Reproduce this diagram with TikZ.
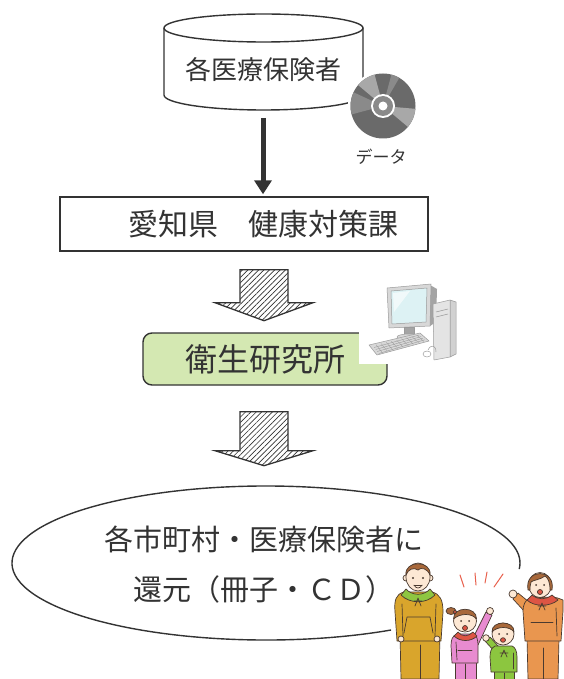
\documentclass[tikz,border=0pt]{standalone}
\usepackage{fontspec}
\newfontfamily\jp{Noto Sans CJK JP}
\usetikzlibrary{arrows.meta,patterns.meta,calc}

\definecolor{ink}{HTML}{333333}
\definecolor{leaf}{HTML}{D4E8B2}
\definecolor{cddark}{HTML}{6A6A6A}
\definecolor{cdlight}{HTML}{A8A8A8}
\definecolor{cdmid}{HTML}{8A8A8A}
\definecolor{skin}{HTML}{FDE8D4}
\definecolor{hair}{HTML}{A8683A}
\definecolor{figink}{HTML}{4A3A30}
\definecolor{mustard}{HTML}{D9A52C}
\definecolor{hoodgreen}{HTML}{8EC641}
\definecolor{pinkwear}{HTML}{E88BD0}
\definecolor{greenwear}{HTML}{8CC63F}
\definecolor{orangewear}{HTML}{E9964F}
\definecolor{hoodred}{HTML}{DD5544}
\definecolor{cheer}{HTML}{E8604C}
\definecolor{pcframe}{HTML}{D8D8D8}
\definecolor{pcdark}{HTML}{A4A4A4}
\definecolor{pcline}{HTML}{9A9A9A}
\definecolor{screen}{HTML}{DDF2F4}

\tikzset{
  frame/.style={draw=ink, line width=1.4pt},
  lbl/.style={text=ink, inner sep=0pt},
  hatchfill/.style={draw=ink, line width=1.3pt, line join=miter,
    pattern={Lines[angle=45,distance=3.8pt,line width=0.7pt]}, pattern color=ink},
  fig/.style={draw=figink, line width=0.7pt, line join=round, line cap=round},
  pc/.style={draw=pcline, line width=0.5pt, line join=round},
}

% hollow hatched down arrow: #1 top centre, #2 shaft length, #3 head length
\newcommand\hatchedarrow[3]{%
  \draw[hatchfill] ([shift={(-24,0)}]#1) -- ([shift={(24,0)}]#1)
    -- ([shift={(24,#2)}]#1) -- ([shift={(49,#2)}]#1)
    -- ([shift={(0,#2+#3)}]#1) -- ([shift={(-49,#2)}]#1)
    -- ([shift={(-24,#2)}]#1) -- cycle;}

\begin{document}
\begin{tikzpicture}[x=1pt,y=-1pt]
\useasboundingbox[fill=white] (0,0) rectangle (563,679);

% ---- database cylinder ----
\filldraw[frame, fill=white] (164,28) -- (164,95)
  arc[start angle=180, end angle=360, x radius=99.5pt, y radius=15pt] -- (363,28);
\draw[frame] (263.5,28) ellipse[x radius=99.5pt, y radius=14pt];
\node[lbl, font=\jp\fontsize{26}{30}\selectfont] (hoken) at (263,70) {各医療保険者};
\coordinate (cylbot) at (263,112);

% ---- data disc ----
\coordinate (cd) at (383,106);
\fill[white] (cd) circle (35pt);
\fill[cddark] (cd) circle (32.5pt);
\fill[cdlight] (cd) -- ++(105:32.5pt) arc[start angle=105, end angle=140, radius=32.5pt] -- cycle;
\fill[cdmid] (cd) -- ++(155:32.5pt) arc[start angle=155, end angle=195, radius=32.5pt] -- cycle;
\fill[cdlight] (cd) -- ++(-40:32.5pt) arc[start angle=-40, end angle=-5, radius=32.5pt] -- cycle;
\fill[cdmid] (cd) -- ++(60:32.5pt) arc[start angle=60, end angle=75, radius=32.5pt] -- cycle;
\fill[white] (cd) circle (12pt);
\fill[cdmid] (cd) circle (10pt);
\fill[white] (cd) circle (4.5pt);
\node[lbl, font=\jp\fontsize{17}{20}\selectfont] (data) at (381,157) {データ};

% ---- prefecture office ----
\node[frame, fill=white, minimum width=368pt, minimum height=54pt, inner sep=0pt] (ken) at (244,224) {};
\node[lbl, font=\jp\fontsize{30}{34}\selectfont] (kentext) at ([xshift=19.5pt]ken.center) {愛知県　健康対策課};

\draw[ink, line width=5pt, -{Triangle[width=17pt,length=14pt]}, shorten >=2pt]
  ([yshift=-6pt]cylbot) -- (cylbot |- ken.north);

% ---- institute ----
\node[frame, rounded corners=9pt, fill=leaf, minimum width=244pt, minimum height=52pt,
      lbl, font=\jp\fontsize{32}{36}\selectfont] (eiken) at (265,359) {衛生研究所};

\coordinate (h1) at ($(ken.south -| eiken.north)+(-1,18)$);
\hatchedarrow{h1}{33}{18}

% ---- computer ----
\fill[white] (359,281) rectangle (458,364);
% monitor
\fill[pcdark] (430,285) -- (437,289) -- (436,322) -- (430,326) -- cycle;
\filldraw[pc, fill=pcframe] (387,288) -- (431,284) -- (430,326) -- (389,328) -- cycle;
\filldraw[pc, fill=screen] (391,291) -- (427,288) -- (426,322) -- (392,324) -- cycle;
\fill[white, opacity=0.6] (393,293) -- (410,291) -- (394,312) -- cycle;
\filldraw[pc, fill=pcdark] (404,327) rectangle (414,336);
\filldraw[pc, fill=pcframe] (409,337) ellipse[x radius=12pt, y radius=3pt];
% tower
\filldraw[pc, fill=pcdark!50] (450,300) -- (456,302) -- (456,354) -- (450,357) -- cycle;
\filldraw[pc, fill=pcframe!70] (433,304) -- (450,300) -- (450,357) -- (434,360) -- cycle;
\draw[pc] (436,312) -- (448,309) (436,317) -- (448,314);
% keyboard
\filldraw[pc, fill=pcframe] (369,345) -- (420,333) -- (429,341) -- (377,355) -- cycle;
\foreach \t in {0.25,0.45,0.65,0.85}
  \draw[pcline, line width=0.4pt] ($(369,345)!\t!(377,355)+(3,0)$) -- ($(420,333)!\t!(429,341)+(-3,0)$);
\foreach \t in {0.1,0.2,...,0.9}
  \draw[pcline, line width=0.3pt] ($(369,345)!\t!(420,333)+(2,1)$) -- ($(377,355)!\t!(429,341)+(0,-1)$);
% mouse and cable
\draw[pc] (428,350) .. controls (431,344) and (436,345) .. (436,352);
\filldraw[pc, fill=white] (427,354) ellipse[x radius=4pt, y radius=3pt];

% ---- returning results ----
\hatchedarrow{$(eiken.south)+(-1,26)$}{39}{15}

\node[lbl, font=\jp\fontsize{29}{50}\selectfont, align=center] (ret) at (264,565)
  {各市町村・医療保険者に\\還元（冊子・ＣＤ）};
\coordinate (bubble) at ($(ret.center)+(2,-2)$);
\draw[ink, line width=1.4pt] ([shift={(-60.5:254pt and 77pt)}]bubble)
  arc[start angle=-60.5, end angle=-364.5, x radius=254pt, y radius=77pt];

% ---- family ----
% father
\filldraw[fig, fill=mustard] (400,633) -- (440,633) -- (439,679) -- (401,679) -- cycle;
\draw[fig] (420,645) -- (420,679);
\filldraw[fig, fill=mustard] (404,592) .. controls (396,594) and (394,600) .. (395,612)
  -- (397,641) -- (441,641) -- (443,612) .. controls (443,600) and (440,594) .. (432,592) -- cycle;
\draw[fig] (402,604) -- (403,636) (436,604) -- (435,636);
\draw[fig] (407,617) -- (430,617) -- (433,633) (407,617) -- (404,633);
\filldraw[fig, fill=skin] (401,639) circle (3pt) (437,639) circle (3pt);
\filldraw[fig, fill=hoodgreen] (401,595) .. controls (410,604) and (426,604) .. (435,595)
  -- (430,589) .. controls (424,596) and (412,596) .. (406,589) -- cycle;
\draw[fig] (418,598) -- (415,606) (418,598) -- (421,606) (414,601) -- (422,601);
\filldraw[fig, fill=skin] (406,578) circle (3pt) (430,578) circle (3pt);
\filldraw[fig, fill=skin] (418,577) ellipse[x radius=12pt, y radius=14pt];
\filldraw[fig, fill=hair] (406,575) .. controls (404,560) and (432,560) .. (430,575)
  .. controls (427,568) and (421,567) .. (418,570) .. controls (414,567) and (408,569) .. (406,575) -- cycle;
\fill[figink] (413,578) circle (1.1pt) (423,578) circle (1.1pt);
\draw[fig] (414,585) .. controls (416,589) and (420,589) .. (422,585);
\draw[fig] (414,585) -- (422,585);

% cheering marks
\draw[cheer, line width=1pt, line cap=round]
  (460,575) -- (464,587) (475,573) -- (476,585) (487,572) -- (485,583) (503,574) -- (494,587);

% girl
\filldraw[fig, fill=pinkwear] (455,660) -- (476,660) -- (476,679) -- (455,679) -- cycle;
\draw[fig] (465,664) -- (465,679);
\filldraw[fig, fill=pinkwear] (472,640) -- (486,612) -- (492,615) -- (478,645) -- cycle;
\filldraw[fig, fill=skin] (490,611) circle (3.5pt);
\filldraw[fig, fill=pinkwear] (457,634) .. controls (452,636) and (451,640) .. (451,646)
  -- (452,663) -- (478,663) -- (478,646) .. controls (478,640) and (477,636) .. (474,634) -- cycle;
\draw[fig] (456,642) -- (457,660);
\draw[fig] (458,650) -- (472,650);
\filldraw[fig, fill=hoodred] (454,636) .. controls (460,642) and (471,642) .. (477,636)
  -- (473,632) .. controls (468,637) and (462,637) .. (458,632) -- cycle;
\filldraw[fig, fill=hair] (451,611) ellipse[x radius=5pt, y radius=3.5pt];
\filldraw[fig, fill=hoodred] (455,612) circle (1.8pt);
\filldraw[fig, fill=skin] (465,621) ellipse[x radius=11.5pt, y radius=11pt];
\filldraw[fig, fill=hair] (453.5,619) .. controls (453,606) and (477,606) .. (476.5,619)
  .. controls (472,613) and (460,613) .. (453.5,619) -- cycle;
\fill[figink] (461,621) circle (1pt) (469,621) circle (1pt);
\filldraw[fig, fill=hoodred] (465,628) ellipse[x radius=2.5pt, y radius=2.5pt];

% boy
\filldraw[fig, fill=greenwear] (494,671) -- (514,671) -- (514,679) -- (494,679) -- cycle;
\draw[fig] (504,673) -- (504,679);
\filldraw[fig, fill=greenwear] (495,652) -- (485,641) -- (490,637) -- (499,647) -- cycle;
\filldraw[fig, fill=skin] (486,638) circle (3.3pt);
\filldraw[fig, fill=greenwear] (495,646) .. controls (491,648) and (490,652) .. (490,657)
  -- (491,672) -- (517,672) -- (517,657) .. controls (517,651) and (515,647) .. (512,646) -- cycle;
\draw[fig] (513,653) -- (513,669);
\draw[fig] (504,650) -- (501,657) (504,650) -- (507,657) (500,653) -- (508,653);
\filldraw[fig, fill=skin] (503,634) circle (11pt);
\filldraw[fig, fill=hair] (492,632) .. controls (491,620) and (515,620) .. (514,632)
  .. controls (510,626) and (497,626) .. (492,632) -- cycle;
\fill[figink] (499,634) circle (1pt) (507,634) circle (1pt);
\filldraw[fig, fill=hoodred] (503,640) ellipse[x radius=2.5pt, y radius=2.3pt];

% mother
\filldraw[fig, fill=orangewear] (527,638) -- (559,638) -- (558,679) -- (528,679) -- cycle;
\draw[fig] (543,648) -- (543,679);
\filldraw[fig, fill=orangewear] (529,602) -- (518,593) -- (513,599) -- (525,612) -- cycle;
\filldraw[fig, fill=skin] (513,594) circle (4pt);
\filldraw[fig, fill=orangewear] (530,598) .. controls (525,600) and (523,605) .. (523,611)
  -- (525,641) -- (561,641) -- (563,611) -- (563,600) .. controls (558,598) and (555,597) .. (552,597) -- cycle;
\draw[fig] (556,608) -- (557,636);
\draw[fig] (531,622) -- (553,622);
\filldraw[fig, fill=hoodred] (527,600) .. controls (534,607) and (550,607) .. (558,600)
  -- (552,595) .. controls (546,600) and (538,600) .. (532,595) -- cycle;
\draw[fig] (542,603) -- (539,610) (542,603) -- (545,610) (538,606) -- (546,606);
\filldraw[fig, fill=skin] (540,585) ellipse[x radius=11.5pt, y radius=12.5pt];
\filldraw[fig, fill=hair] (528,590) .. controls (524,568) and (556,568) .. (552,590)
  -- (550,590) .. controls (550,582) and (548,578) .. (545,576)
  .. controls (540,580) and (533,580) .. (531,582) .. controls (530,585) and (530,588) .. (530,590) -- cycle;
\fill[figink] (536,585) circle (1pt) (544,585) circle (1pt);
\filldraw[fig, fill=hoodred] (540,592) ellipse[x radius=2.6pt, y radius=2.5pt];
\end{tikzpicture}
\end{document}
